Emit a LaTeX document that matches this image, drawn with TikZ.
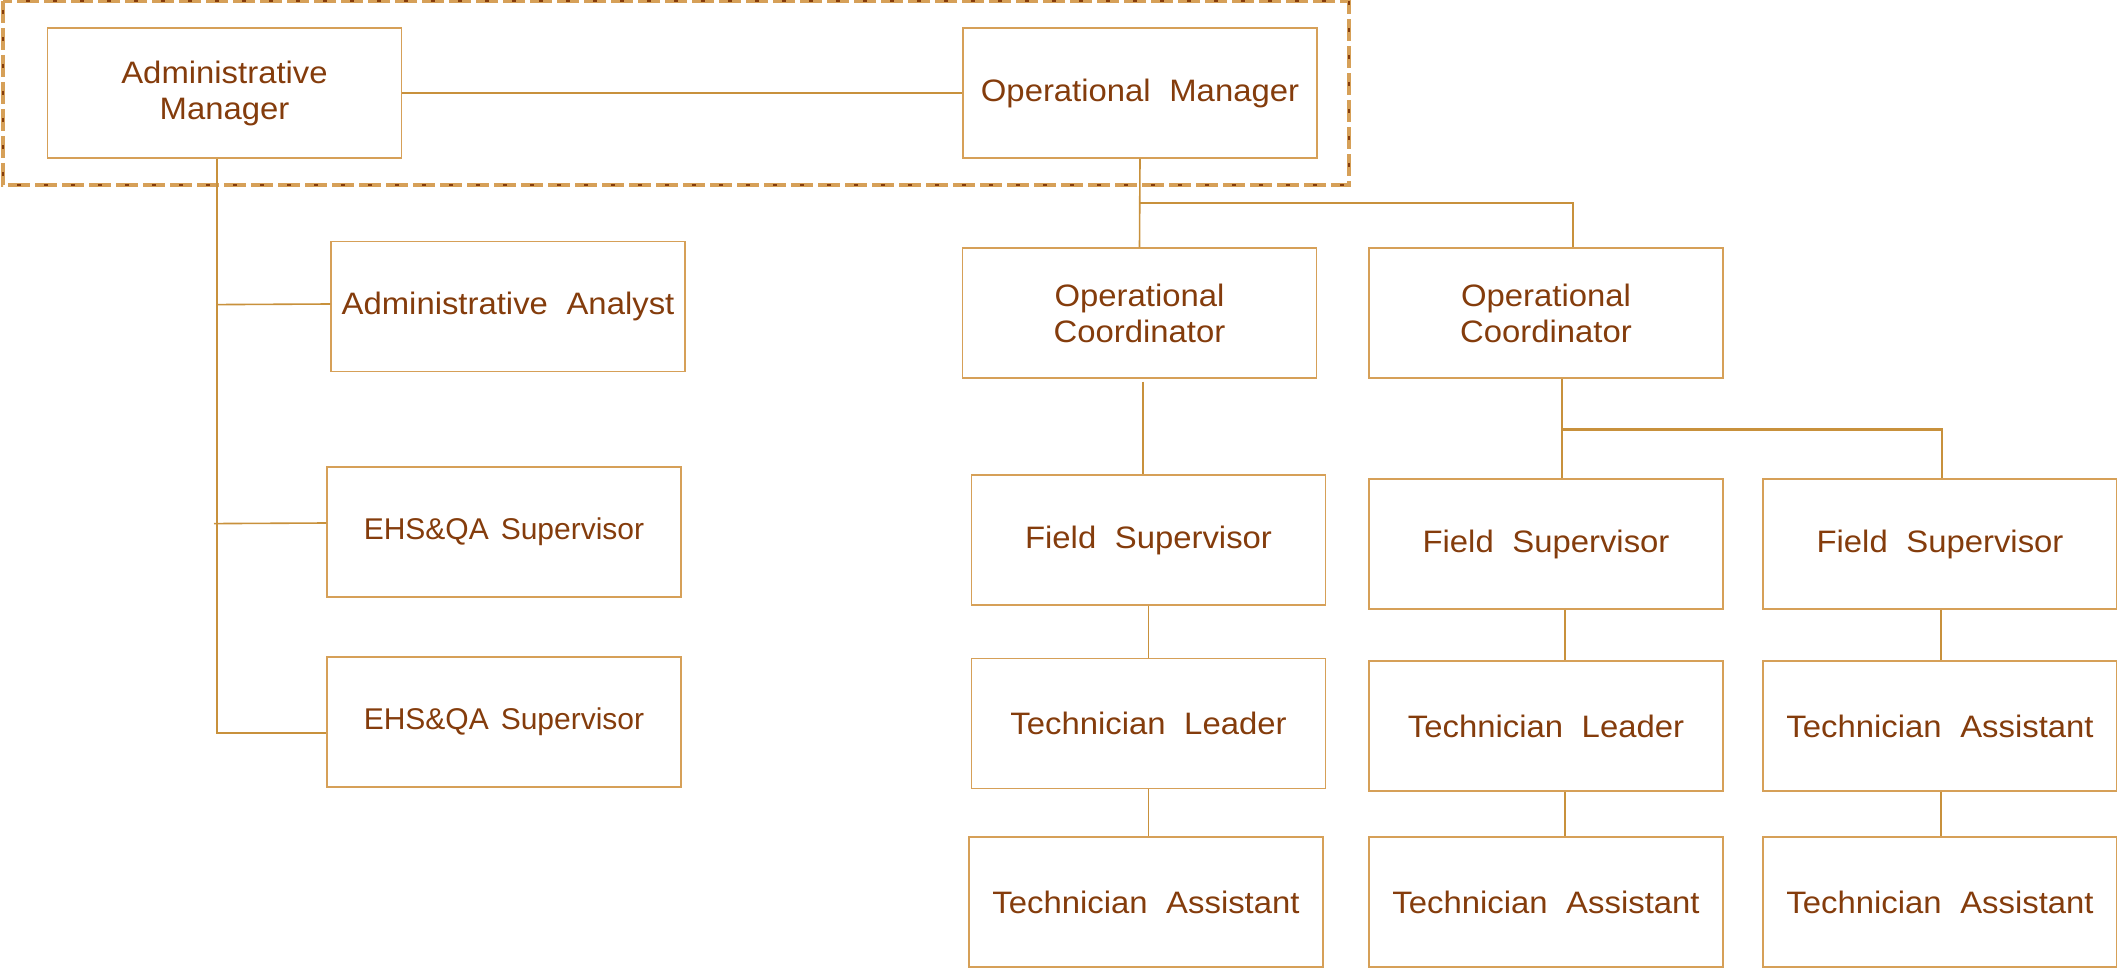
\documentclass[tikz,border=0pt]{standalone}
\usepackage{fontspec}
\setmainfont{Liberation Sans}[FakeStretch=1.06]
\newfontfamily\plainsans{Liberation Sans}
\usetikzlibrary{calc}
\definecolor{txtbrown}{RGB}{132,60,12}
\definecolor{boxtan}{RGB}{214,160,88}
\definecolor{linetan}{RGB}{200,145,60}
\newcommand{\boxfont}{\fontsize{15.5}{18}\selectfont\spaceskip=0.6em\relax}
\newcommand{\ehsfont}{\plainsans\fontsize{15}{18}\selectfont\spaceskip=0.4em\relax}
\begin{document}
\begin{tikzpicture}[x=0.5pt,y=-0.5pt,
  box/.style={draw=boxtan, line width=0.6pt, rectangle, minimum width=177pt, minimum height=65pt,
    inner sep=0pt, align=center, text=txtbrown, font=\boxfont},
  ehsbox/.style={box, font=\ehsfont},
  conn/.style={draw=linetan, line width=0.8pt}]
\useasboundingbox (0,0) rectangle (2117,968);
% dashed frame
\draw[boxtan, line width=2pt, dash pattern=on 11pt off 2.5pt] (3,1) rectangle (1349,185);
\draw[txtbrown, line width=1.4pt, dash pattern=on 1.6pt off 11.9pt, dash phase=-4.7pt] (3,1) rectangle (1349,185);
% nodes
\node[box] (am) at (224.5,93) {Administrative\\Manager};
\node[box] (om) at (1140,93) {Operational Manager};
\node[box] (aa) at (508,306.5) {Administrative Analyst};
\node[ehsbox] (ehsa) at (504,532) {EHS\&QA Supervisor};
\node[ehsbox] (ehsb) at (504,722) {EHS\&QA Supervisor};
\node[box] (oca) at (1139.5,313) {Operational\\Coordinator};
\node[box] (ocb) at (1546,313) {Operational\\Coordinator};
\node[box] (fsa) at (1148.5,540) {Field Supervisor};
\node[box] (fsb) at (1546,544) {Field Supervisor};
\node[box] (fsc) at (1940,544) {Field Supervisor};
\node[box] (tla) at (1148.5,723.5) {Technician Leader};
\node[box] (tlb) at (1546,726) {Technician Leader};
\node[box] (tac) at (1940,726) {Technician Assistant};
\node[box] (taa) at (1146,902) {Technician Assistant};
\node[box] (tab) at (1546,902) {Technician Assistant};
\node[box] (tad) at (1940,902) {Technician Assistant};
% coordinates
\coordinate (amv) at ($(am.south)+(-7.5,0)$);
\coordinate (omh) at (1140,203);
\coordinate (ocbv) at ($(ocb.south)+(16,0)$);
% admin side
\draw[conn] (amv) |- ($(ehsb.west)+(0,11)$);
\draw[conn] ($(amv)+(0,146)$) -- ($(aa.west)+(0,-2.5)$);
\draw[conn] ($(amv)+(-3,365)$) -- ($(ehsa.west)+(0,-9)$);
% manager link
\draw[conn] (am.east) -- (om.west);
% operational side
\draw[conn] (om.south) -- (oca.north);
\draw[conn, line width=1.1pt] (omh) -| ($(ocb.north)+(27,0)$);
\draw[conn] ($(oca.south)+(3.5,3)$) -- ($(fsa.north)+(-5.5,0)$);
\draw[conn] (ocbv) -- ($(fsb.north)+(16,0)$);
\draw[conn, line width=1.1pt] ($(ocbv)+(0,51)$) -| ($(fsc.north)+(2,0)$);
\draw[conn] (fsa.south) -- (tla.north);
\draw[conn] (tla.south) -- ($(taa.north)+(2.5,0)$);
\draw[conn] ($(fsb.south)+(19,0)$) -- ($(tlb.north)+(19,0)$);
\draw[conn] ($(tlb.south)+(19,0)$) -- ($(tab.north)+(19,0)$);
\draw[conn] ($(fsc.south)+(1,0)$) -- ($(tac.north)+(1,0)$);
\draw[conn] ($(tac.south)+(1,0)$) -- ($(tad.north)+(1,0)$);
\end{tikzpicture}
\end{document}
